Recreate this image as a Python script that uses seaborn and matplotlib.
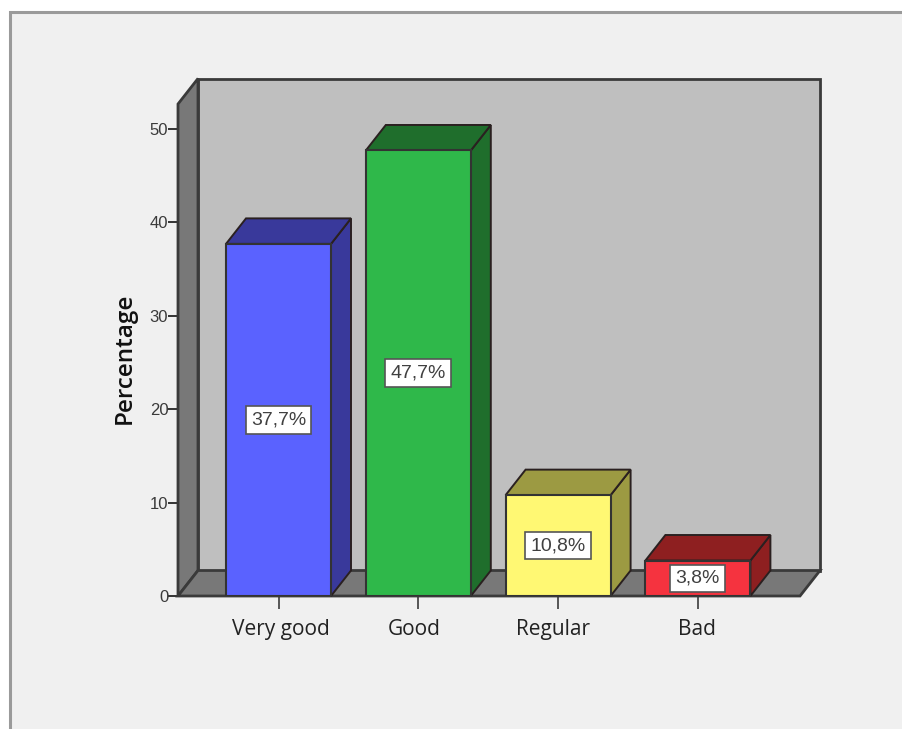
import matplotlib
matplotlib.use("Agg")
import matplotlib.pyplot as plt
from matplotlib.patches import Polygon, Rectangle
from matplotlib.transforms import ScaledTranslation
import seaborn as sns

categories = ["Very good", "Good", "Regular", "Bad"]
values = [37.7, 47.7, 10.8, 3.8]
front_colors = ["#5A62FF", "#2FB84A", "#FFF873", "#F5333F"]
side_colors = ["#39399B", "#1F6E2C", "#9C9A42", "#8E1F20"]
y_ticks = [0, 10, 20, 30, 40, 50]
label_nudges_px = [2, -4, -5, -1]

W, H = 902, 729
EDGE = "#333333"
sns.set_theme(style="white")
fig = plt.figure(figsize=(W / 100, H / 100), dpi=100, facecolor="white")

fig.add_artist(Rectangle((10 / W, -0.02), 1.0, 1.02 - 11.5 / H, transform=fig.transFigure,
                         facecolor="#F0F0F0", edgecolor="#9A9A9A", linewidth=2.2, zorder=-5))

left, right, top, bottom = 178, 800, 104, 596
ax = fig.add_axes([left / W, 1 - bottom / H, (right - left) / W, (bottom - top) / H])
ax.patch.set_visible(False)

px_per_x = 139.8
px_per_y = 9.34
xmin = (left - 278.5) / px_per_x
xmax = (right - 278.5) / px_per_x
ymax = (bottom - top) / px_per_y
dx = 20 / px_per_x
dy = 25.5 / px_per_y
bar_width = 105 / px_per_x

sns.barplot(x=categories, y=values, hue=categories, palette=front_colors, hue_order=categories,
            order=categories, width=bar_width, saturation=1, edgecolor=EDGE, linewidth=1.5,
            legend=False, ax=ax, zorder=4)
ax.set_xlim(xmin, xmax)
ax.set_ylim(0, ymax)

wall_kw = dict(edgecolor="#3A3A3A", linewidth=2, clip_on=False, joinstyle="miter")
ax.add_patch(Polygon([(xmin + dx, dy), (xmax + dx, dy), (xmax + dx, ymax + dy), (xmin + dx, ymax + dy)],
                     facecolor="#BFBFBF", zorder=1, **wall_kw))
ax.add_patch(Polygon([(xmin, 0), (xmin + dx, dy), (xmin + dx, ymax + dy), (xmin, ymax)],
                     facecolor="#787878", zorder=2, **wall_kw))
ax.add_patch(Polygon([(xmin, 0), (xmax, 0), (xmax + dx, dy), (xmin + dx, dy)],
                     facecolor="#787878", zorder=2, **wall_kw))

for i, (v, side) in enumerate(zip(values, side_colors)):
    x0, x1 = i - bar_width / 2, i + bar_width / 2
    box = dict(facecolor=side, edgecolor="#2A2020", linewidth=1.4, clip_on=False, zorder=3)
    ax.add_patch(Polygon([(x1, 0), (x1 + dx, dy), (x1 + dx, v + dy), (x1, v)], **box))
    ax.add_patch(Polygon([(x0, v), (x1, v), (x1 + dx, v + dy), (x0 + dx, v + dy)], **box))
    ax.text(i, v / 2, f"{v:.1f}%".replace(".", ","), ha="center", va="center", zorder=6,
            family="Liberation Sans", fontsize=14, color="#404040",
            bbox=dict(boxstyle="square,pad=0.27", facecolor="white", edgecolor="#555555", linewidth=1.2))

for s in ax.spines.values():
    s.set_visible(False)

ax.set_yticks(y_ticks)
ax.set_yticklabels([str(t) for t in y_ticks], family="Liberation Sans", fontsize=12,
                   color="#3A3A3A")
ax.tick_params(axis="y", left=True, length=7, width=1.4, color="#333333", pad=0)
ax.set_xticks(range(len(categories)))
ax.set_xticklabels(categories, family="Open Sans", fontsize=15, color="#222222")
ax.tick_params(axis="x", bottom=True, length=9.5, width=1.4, color="#555555", pad=7)
for lab, nudge in zip(ax.get_xticklabels(), label_nudges_px):
    lab.set_transform(lab.get_transform() + ScaledTranslation(nudge / 100, 0, fig.dpi_scale_trans))
ax.set_xlabel("")
ax.set_ylabel("Percentage", family="Open Sans", fontsize=17.5, fontweight="semibold",
              color="#111111", labelpad=9, y=0.484)

fig.savefig("out.png", dpi=100, facecolor="white")
